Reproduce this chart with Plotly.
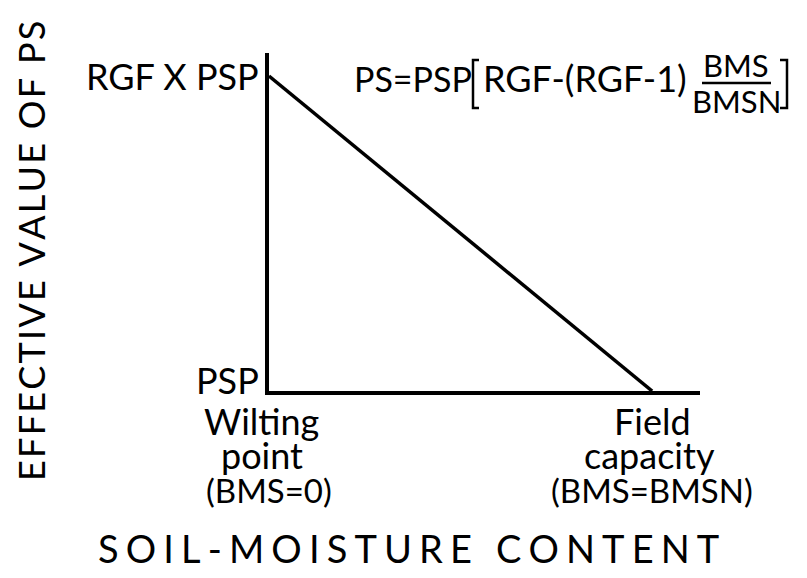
import plotly.graph_objects as go

# Data (normalized): soil moisture fraction BMS/BMSN and effective PS level
bms_frac = [0.0, 1.0]
ps_level = [1.0, 0.0]
x_tick_vals = [0.0, 1.0]
x_tick_lines = [["Wilting", "point", "(BMS=0)"], ["Field", "capacity", "(BMS=BMSN)"]]
y_tick_vals = [0.0, 1.0]
y_tick_text = ["PSP", "RGF X PSP"]
x_title = "SOIL-MOISTURE CONTENT"
y_title = "EFFECTIVE VALUE OF PS"

W, H = 807, 578
L, R, T, B = 261, 115, 45, 195
PW, PH = W - L - R, H - T - B
FONT = "Lato"
FS = 36

def px(x):
    return (x - L) / PW

def py(y):
    return (H - B - y) / PH

def spaced(s, sp):
    return sp.join(list(s))

fig = go.Figure()
fig.add_trace(go.Scatter(x=bms_frac, y=ps_level, mode="lines",
                         line=dict(color="black", width=3.5), hoverinfo="skip"))

ann = []
# y tick labels
for v, t in zip(y_tick_vals, y_tick_text):
    ann.append(dict(x=0, xref="x", y=v, yref="y", text=t, showarrow=False,
                    xanchor="right", yanchor="middle", xshift=-8,
                    yshift=(11 if v == 0 else 0), font=dict(size=FS)))
# x tick labels (one annotation per line for tight spacing)
line_y = [413, 447, 482]
line_fs = [FS, FS, 33]
line_shift = [[-8, -7, 0], [0, -3, 0]]
for v, lines, shifts in zip(x_tick_vals, x_tick_lines, line_shift):
    for ly, lf, t, sh in zip(line_y, line_fs, lines, shifts):
        ann.append(dict(x=v, xref="x", y=py(ly), yref="paper", text=t, showarrow=False,
                        xanchor="center", yanchor="middle", xshift=sh,
                        font=dict(size=lf)))
# axis titles
ann.append(dict(x=px(400), y=py(540), xref="paper", yref="paper",
                text=spaced(x_title, "\u2009\u200a"), showarrow=False,
                xanchor="center", yanchor="middle", font=dict(size=38)))
ann.append(dict(x=px(23), y=py(243), xref="paper", yref="paper",
                text=spaced(y_title, "\u200a"), showarrow=False, textangle=-90,
                xanchor="center", yanchor="middle", font=dict(size=FS)))
# equation
ann.append(dict(x=px(344), y=py(70), xref="paper", yref="paper",
                text="PS=PSP", showarrow=False, xanchor="left", yanchor="middle",
                font=dict(size=34)))
ann.append(dict(x=px(473), y=py(70), xref="paper", yref="paper",
                text="RGF-(RGF-1)", showarrow=False, xanchor="left", yanchor="middle",
                font=dict(size=36)))
ann.append(dict(x=px(728), y=py(57), xref="paper", yref="paper",
                text="BMS", showarrow=False, xanchor="center", yanchor="middle",
                font=dict(size=31)))
ann.append(dict(x=px(728), y=py(93), xref="paper", yref="paper",
                text="BMSN", showarrow=False, xanchor="center", yanchor="middle",
                font=dict(size=31)))

shapes = [
    # fraction bar
    dict(type="line", xref="paper", yref="paper", x0=px(694), x1=px(763),
         y0=py(75), y1=py(75), line=dict(color="black", width=2.5)),
    # left bracket
    dict(type="path", xref="paper", yref="paper",
         path=f"M {px(471)},{py(52)} L {px(465)},{py(52)} L {px(465)},{py(100)} L {px(471)},{py(100)}",
         line=dict(color="black", width=2.5)),
    # right bracket
    dict(type="path", xref="paper", yref="paper",
         path=f"M {px(772)},{py(52)} L {px(779)},{py(52)} L {px(779)},{py(100)} L {px(772)},{py(100)}",
         line=dict(color="black", width=2.5)),
]

fig.update_layout(
    width=W, height=H, margin=dict(l=L, r=R, t=T, b=B),
    paper_bgcolor="white", plot_bgcolor="white",
    font=dict(family=FONT, size=FS, color="black"),
    showlegend=False,
    xaxis=dict(range=[0, 1.125], showgrid=False, zeroline=False, showticklabels=False,
               ticks="", showline=True, linecolor="black", linewidth=3.5, fixedrange=True),
    yaxis=dict(range=[0, 1.073], showgrid=False, zeroline=False, showticklabels=False,
               ticks="", showline=True, linecolor="black", linewidth=3.5, fixedrange=True),
    annotations=ann, shapes=shapes,
)

fig.write_html("out.html")
